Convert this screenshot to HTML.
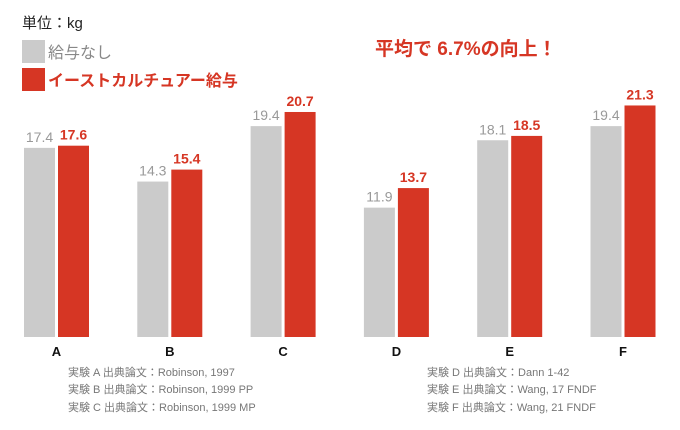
<!DOCTYPE html>
<html><head><meta charset="utf-8"><style>
body{margin:0;background:#fff;width:680px;height:425px;overflow:hidden;font-family:"Liberation Sans","Noto Sans CJK JP",sans-serif;}
svg text{font-family:"Liberation Sans","Noto Sans CJK JP",sans-serif;}
</style></head><body>
<svg id="c" width="680" height="425">
<text x="22" y="28" font-size="15" fill="#222">単位：kg</text>
<rect x="22" y="40" width="23" height="23" fill="#cbcbcb"/>
<text x="48" y="58" font-size="16" fill="#888">給与なし</text>
<rect x="22" y="68" width="23" height="23" fill="#d63624"/>
<text x="48" y="86" font-size="16" font-weight="bold" fill="#d63624">イーストカルチュアー給与</text>
<text x="375" y="55" font-size="19" font-weight="bold" fill="#d63624">平均で 6.7%の向上！</text>
<g id="bars"></g>
<g font-size="11" fill="#777">
<text x="68" y="376">実験 A 出典論文：Robinson, 1997</text>
<text x="68" y="393">実験 B 出典論文：Robinson, 1999 PP</text>
<text x="68" y="411">実験 C 出典論文：Robinson, 1999 MP</text>
<text x="427" y="376">実験 D 出典論文：Dann 1-42</text>
<text x="427" y="393">実験 E 出典論文：Wang, 17 FNDF</text>
<text x="427" y="411">実験 F 出典論文：Wang, 21 FNDF</text>
</g>
</svg>
<script>
const categories=["A","B","C","D","E","F"];
const noneValues=[17.4,14.3,19.4,11.9,18.1,19.4];
const yeastValues=[17.6,15.4,20.7,13.7,18.5,21.3];
const base=337, scale=10.87;
const y=v=>base-v*scale;
const gx=i=>24+i*113.3;
const g=document.getElementById('bars');
const NS="http://www.w3.org/2000/svg";
function mk(t,a,txt){const e=document.createElementNS(NS,t);for(const k in a)e.setAttribute(k,a[k]);if(txt!=null)e.textContent=txt;g.appendChild(e);return e;}
categories.forEach((c,i)=>{
 const x=gx(i);
 let r=mk('rect',{x:x,y:y(noneValues[i]),width:31,height:base-y(noneValues[i]),fill:'#cbcbcb'});
 
 
 r=mk('rect',{x:x+34,y:y(yeastValues[i]),width:31,height:base-y(yeastValues[i]),fill:'#d63624'});
 
 
 let t=mk('text',{x:x+15.5,y:y(noneValues[i])-6,'text-anchor':'middle','font-size':14,fill:'#999'},noneValues[i].toFixed(1));
 
 
 t=mk('text',{x:x+49.5,y:y(yeastValues[i])-6,'text-anchor':'middle','font-size':14,'font-weight':'bold',fill:'#d63624'},yeastValues[i].toFixed(1));
 
 
 t=mk('text',{x:x+32.5,y:356,'text-anchor':'middle','font-size':13,'font-weight':'bold',fill:'#111'},c);
 
 
});
</script>
</body></html>
